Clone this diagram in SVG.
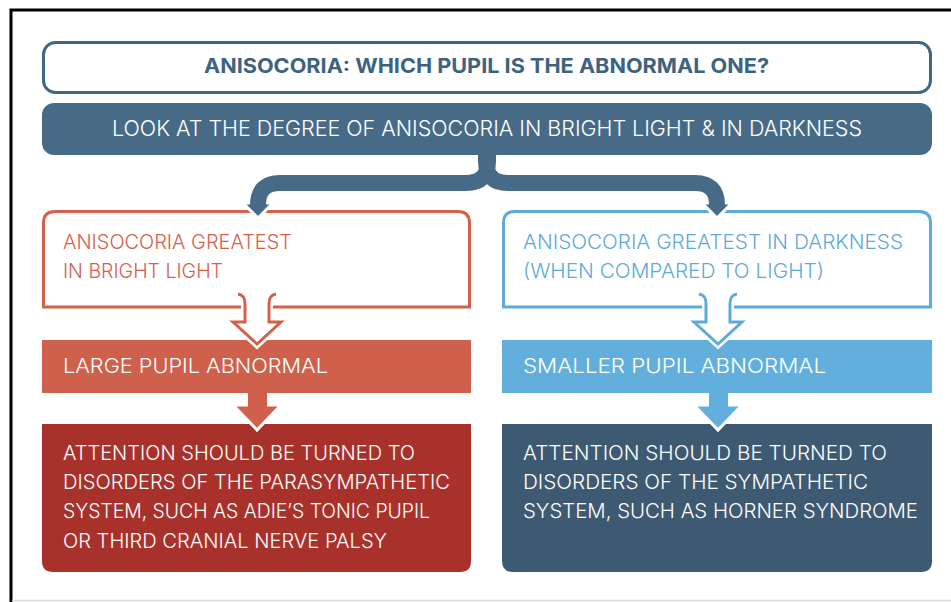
<svg xmlns="http://www.w3.org/2000/svg" width="951" height="602" viewBox="0 0 951 602">
<defs>
<style>
text{font-family:Inter,"Open Sans","Liberation Sans",sans-serif;font-size:20px;font-weight:300;}
.title{font-weight:700;fill:#3d6380;}
.light{fill:#ffffff;}
.red{fill:#d4604b;}
.blue{fill:#5eaadb;}
.conn{fill:none;stroke:#476b87;stroke-width:16;}
</style>
</defs>
<rect width="951" height="602" fill="#ffffff"/>
<path d="M11 602 L11 10 L951 10" fill="none" stroke="#000" stroke-width="3"/>
<line x1="12" y1="600.5" x2="951" y2="600.5" stroke="#d8d8d8" stroke-width="1.5"/>

<g id="title">
<rect x="43.5" y="42.5" width="887" height="50" rx="12" fill="#fff" stroke="#3f6783" stroke-width="3"/>
<text class="title" x="486.5" y="73" text-anchor="middle" textLength="565" lengthAdjust="spacingAndGlyphs">ANISOCORIA: WHICH PUPIL IS THE ABNORMAL ONE?</text>
</g>

<g id="question">
<rect x="42" y="103" width="890" height="52" rx="12" fill="#476b87"/>
<text class="light" x="487" y="136" text-anchor="middle" textLength="750" lengthAdjust="spacingAndGlyphs" style="font-size:21px">LOOK AT THE DEGREE OF ANISOCORIA IN BRIGHT LIGHT &amp; IN DARKNESS</text>
</g>

<g id="bright-light">
<path d="M43.5 307 L43.5 223 Q43.5 211.5 55 211.5 L458 211.5 Q469.5 211.5 469.5 223 L469.5 307 Z" fill="#fff" stroke="#d4604b" stroke-width="3"/>
<text class="red" x="63" y="249" textLength="229" lengthAdjust="spacingAndGlyphs">ANISOCORIA GREATEST</text>
<text class="red" x="63" y="278" textLength="160" lengthAdjust="spacingAndGlyphs">IN BRIGHT LIGHT</text>
</g>

<g id="darkness">
<path d="M503.5 307 L503.5 223 Q503.5 211.5 515 211.5 L919 211.5 Q930.5 211.5 930.5 223 L930.5 307 Z" fill="#fff" stroke="#5eaadb" stroke-width="3"/>
<text class="blue" x="523" y="249" textLength="380" lengthAdjust="spacingAndGlyphs">ANISOCORIA GREATEST IN DARKNESS</text>
<text class="blue" x="523" y="278" textLength="301" lengthAdjust="spacingAndGlyphs">(WHEN COMPARED TO LIGHT)</text>
</g>

<g id="large-pupil">
<rect x="42" y="340" width="429" height="53" fill="#cf604c"/>
<text class="light" x="63" y="373" textLength="265" lengthAdjust="spacingAndGlyphs">LARGE PUPIL ABNORMAL</text>
</g>

<g id="smaller-pupil">
<rect x="502" y="340" width="430" height="53" fill="#62afdd"/>
<text class="light" x="523" y="373" textLength="303" lengthAdjust="spacingAndGlyphs">SMALLER PUPIL ABNORMAL</text>
</g>

<g id="parasympathetic">
<path d="M42 424 L471 424 L471 561 Q471 572 460 572 L53 572 Q42 572 42 561 Z" fill="#a8322b"/>
<text class="light" x="63" y="460" textLength="352" lengthAdjust="spacingAndGlyphs">ATTENTION SHOULD BE TURNED TO</text>
<text class="light" x="63" y="489" textLength="387" lengthAdjust="spacingAndGlyphs">DISORDERS OF THE PARASYMPATHETIC</text>
<text class="light" x="63" y="518" textLength="367" lengthAdjust="spacingAndGlyphs">SYSTEM, SUCH AS ADIE’S TONIC PUPIL</text>
<text class="light" x="63" y="548" textLength="324" lengthAdjust="spacingAndGlyphs">OR THIRD CRANIAL NERVE PALSY</text>
</g>

<g id="sympathetic">
<path d="M502 424 L932 424 L932 561 Q932 572 921 572 L513 572 Q502 572 502 561 Z" fill="#3e5a72"/>
<text class="light" x="523" y="460" textLength="364" lengthAdjust="spacingAndGlyphs">ATTENTION SHOULD BE TURNED TO</text>
<text class="light" x="523" y="489" textLength="345" lengthAdjust="spacingAndGlyphs">DISORDERS OF THE SYMPATHETIC</text>
<text class="light" x="523" y="518" textLength="395" lengthAdjust="spacingAndGlyphs">SYSTEM, SUCH AS HORNER SYNDROME</text>
</g>

<g id="connectors">
<!-- split from question -->
<polygon points="243,203 273,203 258,218" fill="#476b87" stroke="#fff" stroke-width="3" stroke-linejoin="miter"/>
<polygon points="702,203 732,203 717,218" fill="#476b87" stroke="#fff" stroke-width="3" stroke-linejoin="miter"/>
<path class="conn" d="M488 150 L488 161 Q488 183 466 183 L280 183 Q258 183 258 205 L258 206"/>
<path class="conn" d="M486 150 L486 161 Q486 183 508 183 L695 183 Q717 183 717 205 L717 206"/>
<!-- open arrows -->
<path d="M238 294 C244 295 245 299 245 304 L245 322 L233 322 L257 344 L281 322 L269 322 L269 304 C269 299 270 295 276 294" fill="#fff" stroke="#fff" stroke-width="8" stroke-linejoin="miter"/>
<path d="M238 294 C244 295 245 299 245 304 L245 322 L233 322 L257 344 L281 322 L269 322 L269 304 C269 299 270 295 276 294" fill="#fff" stroke="#d4604b" stroke-width="3" stroke-linejoin="miter"/>
<path d="M699 294 C705 295 706 299 706 304 L706 322 L694 322 L718 344 L742 322 L730 322 L730 304 C730 299 731 295 737 294" fill="#fff" stroke="#fff" stroke-width="8" stroke-linejoin="miter"/>
<path d="M699 294 C705 295 706 299 706 304 L706 322 L694 322 L718 344 L742 322 L730 322 L730 304 C730 299 731 295 737 294" fill="#fff" stroke="#5eaadb" stroke-width="3" stroke-linejoin="miter"/>
<!-- solid arrows -->
<polygon points="233,405 281,405 257,430" fill="#cf604c" stroke="#fff" stroke-width="3"/>
<rect x="248" y="390" width="19" height="17" fill="#cf604c"/>
<polygon points="694,405 742,405 718,430" fill="#62afdd" stroke="#fff" stroke-width="3"/>
<rect x="709" y="390" width="19" height="17" fill="#62afdd"/>
</g>
</svg>
